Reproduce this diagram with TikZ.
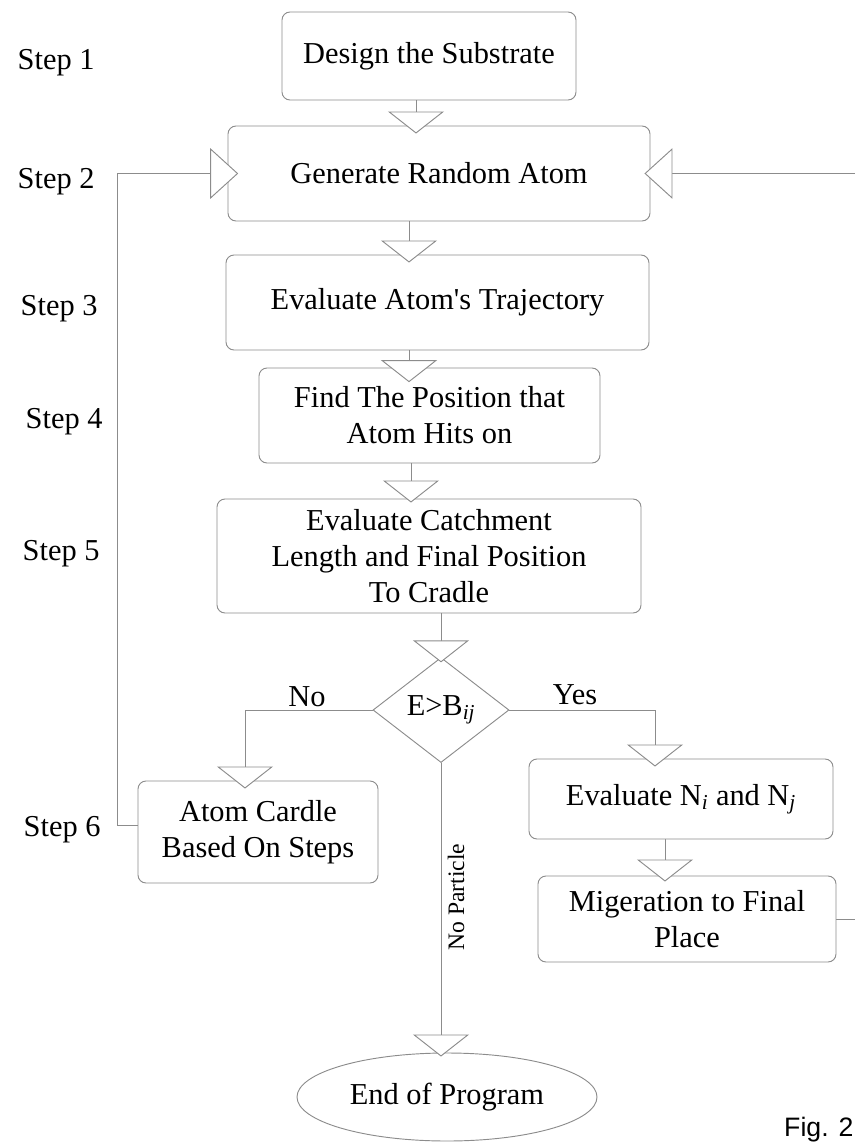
\documentclass[tikz,border=0pt]{standalone}
\usepackage{fontspec}
\setmainfont{Liberation Serif}
\setsansfont{Liberation Sans}
\usetikzlibrary{arrows.meta,shapes.geometric}
\definecolor{linegray}{HTML}{8C8C8C}

\begin{document}
\begin{tikzpicture}[x=0.75pt,y=-0.75pt,line cap=round,
  font=\fontsize{22.8}{27}\selectfont,
  box/.style={draw=linegray, line width=0.7pt, rounded corners=6pt, align=center, inner sep=2pt},
  flow/.style={draw=linegray, line width=0.7pt, -{Triangle[length=16.5pt,width=42pt,fill=white]}, shorten >=-6pt},
  sideflow/.style={flow, -{Triangle[length=21pt,width=38pt,fill=white]}},
  steplabel/.style={anchor=base west}]
  \clip (0,0) rectangle (855,1142);
  \coordinate (s1) at (416,0);
  \coordinate (s2) at (409,0);
  \coordinate (s3) at (411,0);
  \coordinate (s5) at (245,0);
  \coordinate (s6) at (655,0);
  \coordinate (s7) at (665,0);
  \coordinate (fbl) at (117,0);
  \coordinate (rim) at (855,0);

  \node[steplabel] (st1) at (13,69) {Step 1};
  \node[steplabel] (st2) at (13,188) {Step 2};
  \node[steplabel] (st3) at (16,315) {Step 3};
  \node[steplabel] (st4) at (21,428) {Step 4};
  \node[steplabel] (st5) at (18,560) {Step 5};
  \node[steplabel] (st6) at (19,836) {Step 6};

  \node[box, minimum width=220.5pt, minimum height=66pt] (design) at (429,56) {Design the Substrate};
  \node[box, minimum width=316.5pt, minimum height=71.25pt] (gen) at (439,173.5) {Generate Random Atom};
  \node[box, minimum width=317.25pt, minimum height=71.25pt] (traj) at (437.5,302.5) {Evaluate Atom\textquotesingle s Trajectory};
  \node[box, minimum width=255.75pt, minimum height=71.25pt] (find) at (429.5,415.5) {Find The Position that\\Atom Hits on};
  \node[box, minimum width=318pt, minimum height=85.5pt] (catch) at (429,556) {Evaluate Catchment\\Length and Final Position\\To Cradle};
  \node[draw=linegray, line width=0.7pt, diamond, aspect=1.3, inner sep=0pt,
        minimum width=102pt, minimum height=78.75pt] (dia) at (441,710) {E>B\textsubscript{\textit{ij}}};
  \node[box, minimum width=180pt, minimum height=76.5pt] (atom) at (258,832) {Atom Cardle\\Based On Steps};
  \node[box, minimum width=228pt, minimum height=60pt] (evn) at (681,799) {Evaluate N\textsubscript{\textit{i}} and N\textsubscript{\textit{j}}};
  \node[box, minimum width=223.5pt, minimum height=64.5pt] (migr) at (687,919) {Migeration to Final\\Place};
  \node[draw=linegray, line width=0.7pt, ellipse, minimum width=225pt, minimum height=66pt] (endp) at (447,1097) {End of Program};

  \node (nolbl) at (307,697) {No};
  \node (yeslbl) at (575,695) {Yes};
  \node[rotate=90, font=\fontsize{17.7}{20}\selectfont] (nopart) at (456,897) {No Particle};
  \node[anchor=base east, inner sep=1pt, font=\sffamily\fontsize{20}{24}\selectfont] (fig) at (855,1136) {Fig. 2};

  \draw[flow] (design.south -| s1) -- (gen.north -| s1);
  \draw[flow] (gen.south -| s2) -- (traj.north -| s2);
  \draw[flow, shorten >=-11pt] (traj.south -| s2) -- (find.north -| s2);
  \draw[flow, shorten >=-3pt] (find.south -| s3) -- (catch.north -| s3);
  \draw[flow, shorten >=-4pt] (catch.south -| dia.north) -- (dia.north);
  \draw[flow] (dia.west) -| (atom.north -| s5);
  \draw[flow] (dia.east) -| (evn.north -| s6);
  \draw[flow, shorten >=-4.5pt] (evn.south -| s7) -- (migr.north -| s7);
  \draw[flow, shorten >=-3pt] (dia.south) -- (dia.south |- endp.north);
  \draw[sideflow, shorten >=-8pt] ([yshift=5pt]atom.west) -| (fbl |- gen.west) -- (gen.west);
  \draw[sideflow, shorten >=-4.5pt] (gen.east -| rim) -- (gen.east);
  \draw[draw=linegray, line width=0.7pt] (migr.east) -- (migr.east -| rim);
\end{tikzpicture}
\end{document}
